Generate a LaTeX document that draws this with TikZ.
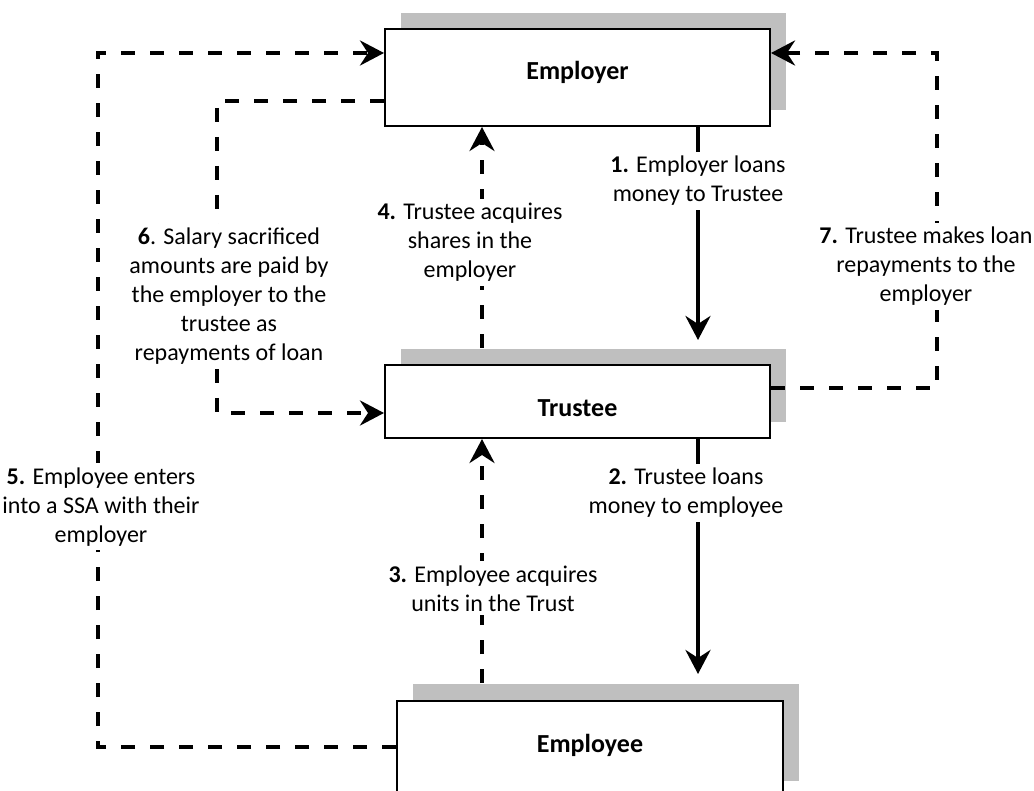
\documentclass[tikz,border=0pt]{standalone}
\usepackage{fontspec}
\setmainfont{Carlito}
\usetikzlibrary{arrows.meta,calc}
\definecolor{shadowgray}{RGB}{191,191,191}
\begin{document}
\begin{tikzpicture}[x=1pt,y=-1pt,
  box/.style={draw=black, line width=2pt, fill=white, inner sep=0pt,
    font=\fontsize{26}{30}\selectfont\bfseries, minimum width=385pt},
  shadowbox/.style={fill=shadowgray},
  lbl/.style={fill=white, align=center, inner sep=4pt, anchor=base,
    font=\fontsize{24}{29}\selectfont},
  conn/.style={line width=4pt, -{Stealth[length=24pt,width=25pt,inset=8pt]}},
  dashconn/.style={conn, dash pattern=on 14pt off 15pt},
]
\useasboundingbox (0,0) rectangle (1034,791);

% shadows
\fill[shadowbox] (401,13) rectangle (786,110);
\fill[shadowbox] (401,349) rectangle (786,422);
\fill[shadowbox] (413,684) rectangle (799,781);

% boxes
\node[box, text height=51pt, text depth=46pt, anchor=base] (emp) at (577.5,80) {Employer};
\node[box, text height=52pt, text depth=21pt, anchor=base] (tru) at (577.5,417) {Trustee};
\node[box, minimum width=386pt, text height=51pt, text depth=45pt, anchor=base] (eee) at (590,752) {Employee};

% bend points
\coordinate (xR) at (698,0);
\coordinate (xL) at (482,0);
\coordinate (c5a) at (98,747);
\coordinate (c5b) at (98,53);
\coordinate (c6a) at (217,101);
\coordinate (c6b) at (217,413);
\coordinate (c7a) at (937,388);
\coordinate (c7b) at (937,53);

% connectors
\draw[conn, shorten >=24pt] (emp.south -| xR) -- (tru.north -| xR);
\draw[conn, shorten >=26pt] (tru.south -| xR) -- (eee.north -| xR);
\draw[dashconn, shorten <=17pt] (eee.north -| xL) -- (tru.south -| xL);
\draw[dashconn, shorten <=16pt] (tru.north -| xL) -- (emp.south -| xL);
\draw[dashconn] (eee.west |- c5a) -- (c5a) -- (c5b) -- (emp.west |- c5b);
\draw[dashconn] (emp.west |- c6a) -- (c6a) -- (c6b) -- (tru.west |- c6b);
\draw[dashconn] (tru.east |- c7a) -- (c7a) -- (c7b) -- (emp.east |- c7b);

% labels (anchor = baseline of last line)
\node[lbl] (l1) at (698,202) {\textbf{1.} Employer loans\\money to Trustee};
\node[lbl] (l2) at (686,514) {\textbf{2.} Trustee loans\\money to employee};
\node[lbl] (l3) at (493,611) {\textbf{3.} Employee acquires\\units in the Trust};
\node[lbl] (l4) at (470,278) {\textbf{4.} Trustee acquires\\shares in the\\employer};
\node[lbl] (l5) at (101,542) {\textbf{5.} Employee enters\\into a SSA with their\\employer};
\node[lbl] (l6) at (229,361) {\textbf{6}. Salary sacrificed\\amounts are paid by\\the employer to the\\trustee as\\repayments of loan};
\node[lbl] (l7) at (926,302) {\textbf{7.} Trustee makes loan\\repayments to the\\employer};
\end{tikzpicture}
\end{document}
